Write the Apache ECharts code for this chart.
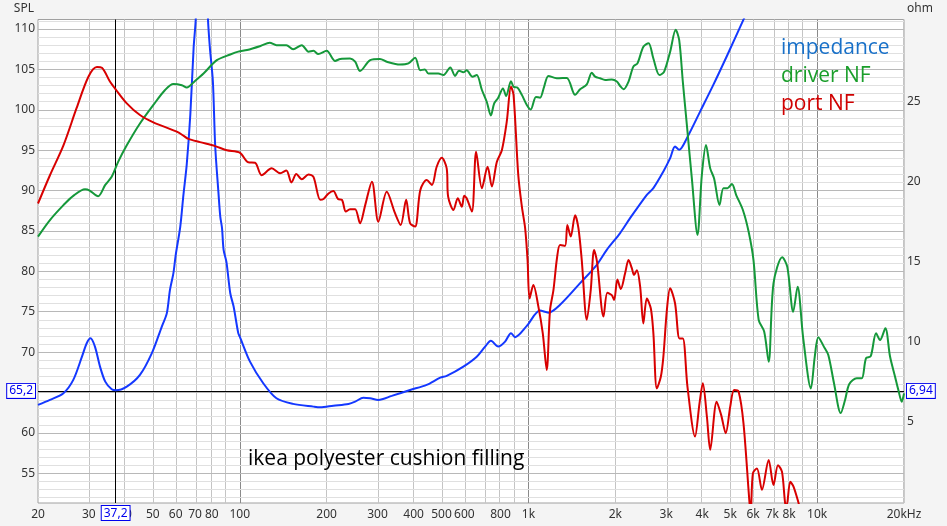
<!DOCTYPE html>
<html><head><meta charset="utf-8">
<script src="https://cdn.jsdelivr.net/npm/echarts@6/dist/echarts.min.js"></script>
<style>html,body{margin:0;padding:0;background:#f4f4f4}#c{width:947px;height:526px}</style>
</head><body><div id="c"></div>
<script>
// ---------- axis ticks ----------
const xLabelFreqs = [20,30,40,50,60,70,80,100,200,300,400,500,600,800,1000,2000,3000,4000,5000,6000,7000,8000,10000,20000];
const xGridFreqs = [20,30,40,50,60,70,80,90,100,200,300,400,500,600,700,800,900,1000,2000,3000,4000,5000,6000,7000,8000,9000,10000,20000];
const xDecades = [100,1000,10000];
const splTicks = [55,60,65,70,75,80,85,90,95,100,105,110];
const splGrid = [52,53,54,55,56,57,58,59,60,61,62,63,64,65,66,67,68,69,70,71,72,73,74,75,76,77,78,79,80,81,82,83,84,85,86,87,88,89,90,91,92,93,94,95,96,97,98,99,100,101,102,103,104,105,106,107,108,109,110,111];
const ohmTicks = [5,10,15,20,25];

// ---------- cursor ----------
const cursorFreq = 37.2;
const cursorSPL = 65.2;
const cursorOhm = 6.94;

// ---------- port NF (dB SPL) ----------
const portFreq = [20,22,24.5,27.2,29.9,32,33.3,35.5,37.3,40.6,45.1,50.2,60.5,63.8,66.4,72.8,82.2,90.2,100,107,113,119,129,138,145,151,157,164,173,180,190,195,203,211,219,226,233,241,251,261,272,287,302,323,345,361,377,389,405,422,444,463,481,501,521,527,550,569,588,599,611,637,659,690,722,747,777,809,841,870,888,922,949,974,993,1009,1040,1083,1121,1157,1188,1221,1256,1287,1339,1364,1401,1451,1490,1530,1593,1644,1688,1729,1820,1877,1944,1981,2033,2089,2162,2222,2281,2321,2374,2438,2501,2571,2655,2709,2785,2875,2934,3017,3097,3220,3336,3426,3556,3777,3914,4019,4152,4263,4488,4653,4825,5001,5159,5348,5558,5834,5890,5992,6189,6440,6795,7062,7319,7555,7749,7837,8074,8285,8630,8750];
const portSPL = [88.4,91.9,95.6,100.2,104.1,105.3,105.2,103.5,102.45,100.8,99.35,98.45,97.3,96.8,96.4,96.0,95.5,95.0,94.7,93.5,93.45,91.9,92.75,92.15,92.5,91.0,92.05,91.4,92.0,91.7,88.85,88.95,89.65,89.95,88.95,88.85,87.4,87.7,87.7,85.95,88.2,91.1,86.15,89.85,87.2,85.75,88.85,85.95,85.55,90.05,91.3,90.7,92.95,94.05,92.75,89.25,87.6,89.05,88.0,89.35,89.05,87.4,94.8,90.3,92.95,90.5,93.55,95.0,98.5,102.85,101.85,91.95,88.0,85.35,81.4,76.65,78.3,75.6,72.35,67.8,75.2,77.7,81.65,83.25,83.15,85.75,84.3,86.95,85.35,81.4,74.0,77.7,82.65,81.15,74.4,77.35,77.05,76.45,79.0,77.8,79.75,81.4,80.4,79.55,80.15,78.1,73.55,76.65,75.4,72.35,65.5,66.95,69.45,75.2,77.9,76.05,71.7,71.7,65.7,59.55,63.65,66.15,62.0,57.9,63.85,62.2,59.95,63.25,65.3,65.1,61.2,51.3,50.2,55.0,55.6,52.95,56.65,53.55,56.0,55.2,51.3,50.95,53.95,53.35,51.3,50.5];

// ---------- driver NF (dB SPL) ----------
const driverFreq = [20,22,24.5,26.5,29.1,30.2,32.3,34.2,36,37.9,40.6,45.1,50.2,55.1,58.9,63,65.5,70.1,74.9,83.3,92.7,98.8,106,118,127,134,145,153,164,173,180,187,200,214,223,241,251,261,283,306,323,359,384,405,422,438,450,487,508,536,557,575,595,611,640,662,690,717,741,761,786,816,837,870,888,915,949,987,1018,1062,1097,1133,1173,1253,1357,1451,1510,1593,1657,1702,1771,1843,1944,2024,2078,2135,2222,2309,2386,2501,2607,2709,2844,2950,3097,3237,3328,3426,3539,3682,3852,3988,4122,4263,4397,4591,4737,4894,5068,5245,5532,5792,6020,6274,6555,6795,7062,7572,7884,8265,8559,8952,9517,9816,10096,10565,10935,11443,12073,12493,12930,13718,14276,14775,15339,16003,16520,17234,17892,18622,19122,19648,20000];
const driverSPL = [84.3,86.35,88.2,89.35,90.15,90.0,89.3,90.7,91.7,93.55,95.6,98.3,100.6,102.45,103.2,103.05,102.75,103.6,104.5,106.15,106.85,107.2,107.4,107.9,108.3,108.0,108.0,107.5,108.0,107.2,107.3,106.9,107.3,106.05,106.3,106.35,105.95,104.8,106.15,106.3,105.95,105.6,105.75,106.45,104.9,105.0,104.5,104.5,104.3,105.25,104.2,104.85,104.65,104.9,104.1,104.3,102.45,101.0,99.3,100.8,101.5,102.65,101.7,103.55,102.85,102.75,101.85,100.6,100.05,101.6,101.5,102.85,104.2,103.9,103.95,101.85,102.55,103.15,104.6,104.1,103.9,103.7,103.75,103.5,102.95,102.55,103.5,105.35,105.75,107.8,108.25,106.35,104.3,104.7,107.2,109.9,108.65,103.5,98.1,91.5,84.5,91.95,95.65,92.75,91.5,88.2,90.3,90.3,90.8,89.45,87.6,84.9,81.4,74.0,72.55,68.8,78.5,81.75,80.55,75.0,78.1,71.7,65.5,69.45,71.85,70.65,69.65,66.15,62.45,64.05,66.05,66.75,66.75,69.25,69.5,72.35,71.5,72.95,69.45,66.95,65.3,63.85,64.9];

// ---------- impedance (ohm) ----------
const impFreq = [20,22,24.5,26.5,28.4,29.5,30.4,31.5,32.8,34.2,36,37.2,40.6,45.1,49.6,53.7,55.9,57.3,58.9,60,62.2,63.8,65.5,67.4,69.2,70.5,73.8,77.5,78.8,80.7,82.2,84.3,85.6,86.8,87.9,89.9,92.7,95.2,98.8,100,108.5,120.6,134,153,180,190,211,238,251,268,283,302,336,389,444,495,521,595,662,708,741,786,830,870,899,987,1097,1173,1287,1510,1725,1868,2078,2250,2571,2709,2934,3097,3220,3328,3539,3936,4374,4861,5198,5558,6000];
const impOhm = [6.03,6.34,6.76,7.59,9.04,9.88,10.19,9.67,8.42,7.48,7.0,6.94,7.17,7.9,9.26,10.92,11.76,13.21,14.26,15.4,17.15,19.15,21.03,24.15,28.32,30.4,50,30.4,28.32,26.23,22.2,19.36,17.79,17.07,15.71,14.96,13.0,12.17,10.51,10.29,8.73,7.38,6.44,6.09,5.92,5.88,5.98,6.09,6.23,6.48,6.44,6.34,6.59,6.96,7.28,7.73,7.84,8.42,9.04,9.67,10.03,9.67,9.98,10.51,10.26,10.96,11.92,11.79,12.28,13.63,14.78,15.71,16.76,17.69,19.15,19.57,20.61,21.44,22.17,21.96,22.69,24.36,26.03,27.79,28.94,30.09,31.4];

const L = Math.log10;
const pairs = (fs, vs) => fs.map((f, i) => [L(f), vs[i]]);
function fmtFreq(v) {
  const f = Math.round(Math.pow(10, v));
  if (f >= 20000) return '20kHz';
  if (f >= 1000) return (f / 1000) + 'k';
  return String(f);
}
const FONT = 'Noto Sans';
const cursorLabel = {
  show: true, color: '#0000ee', backgroundColor: '#ffffff', borderColor: '#0000ee', borderWidth: 1,
  padding: [2, 2, 0, 2], fontSize: 12, fontFamily: FONT, distance: 3
};

const chart = echarts.init(document.getElementById('c'), null, { renderer: 'canvas' });
chart.setOption({
  animation: false,
  backgroundColor: '#f4f4f4',
  textStyle: { fontFamily: FONT },
  grid: { left: 38, top: 19.5, right: 43, bottom: 23, show: true, backgroundColor: '#ffffff', borderColor: '#a0a0a0', borderWidth: 1 },
  title: {
    text: 'ikea polyester cushion filling', left: 243, top: 444,
    textStyle: { fontFamily: 'Open Sans', fontSize: 21, fontWeight: 'normal', color: '#000' }
  },
  legend: {
    orient: 'vertical', left: 771, top: 33, icon: 'none', itemWidth: 0, itemHeight: 14, itemGap: 7,
    selectedMode: false,
    textStyle: { fontFamily: 'Open Sans', fontSize: 21 },
    data: [
      { name: 'impedance', textStyle: { color: '#1870c8' } },
      { name: 'driver NF', textStyle: { color: '#1a9e2a' } },
      { name: 'port NF', textStyle: { color: '#d00000' } }
    ]
  },
  xAxis: {
    type: 'value', min: L(20), max: L(20000),
    axisLine: { show: false }, axisTick: { show: false }, splitLine: { show: false },
    axisLabel: { customValues: xLabelFreqs.map(L), formatter: fmtFreq, color: '#333', fontSize: 12, margin: 6, fontFamily: FONT }
  },
  yAxis: [
    {
      type: 'value', min: 51.32, max: 111.18, name: 'SPL', nameLocation: 'end', nameGap: 5,
      nameTextStyle: { align: 'right', color: '#333', fontSize: 12, padding: [0, 4, 0, 0], fontFamily: FONT },
      axisLine: { show: false }, axisTick: { show: false }, splitLine: { show: false },
      axisLabel: { customValues: splTicks, color: '#333', fontSize: 12, margin: 3, fontFamily: FONT }
    },
    {
      type: 'value', min: -0.1, max: 30.1, position: 'right', name: 'ohm', nameLocation: 'end', nameGap: 5,
      nameTextStyle: { align: 'left', color: '#333', fontSize: 12, padding: [0, 0, 0, 3], fontFamily: FONT },
      axisLine: { show: false }, axisTick: { show: false }, splitLine: { show: false },
      axisLabel: { customValues: ohmTicks, color: '#333', fontSize: 12, margin: 3, fontFamily: FONT }
    }
  ],
  series: [
    {
      name: 'grid', type: 'line', data: [], z: 1, silent: true, yAxisIndex: 0,
      markLine: {
        z: 1, zlevel: 0, silent: true, symbol: ['none', 'none'], label: { show: false }, animation: false,
        data: xGridFreqs.map(f => ({ xAxis: L(f), lineStyle: { color: xDecades.includes(f) ? '#8a8a8a' : '#c4c4c4', width: 1, type: 'solid' } }))
          .concat(splGrid.map(v => ({ yAxis: v, lineStyle: { color: v % 5 === 0 ? '#b8b8b8' : '#e0e0e0', width: 1, type: 'solid' } })))
      }
    },
    {
      name: 'impedance', type: 'line', yAxisIndex: 1, data: pairs(impFreq, impOhm), showSymbol: false, symbol: 'none',
      smooth: 0.3, lineStyle: { color: '#1438ff', width: 2 }, itemStyle: { color: '#1438ff' }, z: 3, clip: true
    },
    {
      name: 'driver NF', type: 'line', yAxisIndex: 0, data: pairs(driverFreq, driverSPL), showSymbol: false, symbol: 'none',
      smooth: 0.3, lineStyle: { color: '#15983a', width: 2 }, itemStyle: { color: '#15983a' }, z: 3, clip: true
    },
    {
      name: 'port NF', type: 'line', yAxisIndex: 0, data: pairs(portFreq, portSPL), showSymbol: false, symbol: 'none',
      smooth: 0.3, lineStyle: { color: '#d80000', width: 2 }, itemStyle: { color: '#d80000' }, z: 3, clip: true
    },
    {
      name: 'cursor', type: 'line', data: [], z: 2, silent: true, yAxisIndex: 0,
      markLine: {
        z: 2, silent: true, symbol: ['none', 'none'], animation: false,
        lineStyle: { color: '#000', width: 1, type: 'solid' },
        data: [
          { xAxis: L(cursorFreq), label: Object.assign({}, cursorLabel, { position: 'start', formatter: String(cursorFreq).replace('.', ',') }) },
          { yAxis: cursorSPL, label: Object.assign({}, cursorLabel, { position: 'start', formatter: String(cursorSPL).replace('.', ',') }) },
          { yAxis: cursorSPL, label: Object.assign({}, cursorLabel, { position: 'end', formatter: String(cursorOhm).replace('.', ',') }) }
        ]
      }
    }
  ]
});
</script></body></html>
